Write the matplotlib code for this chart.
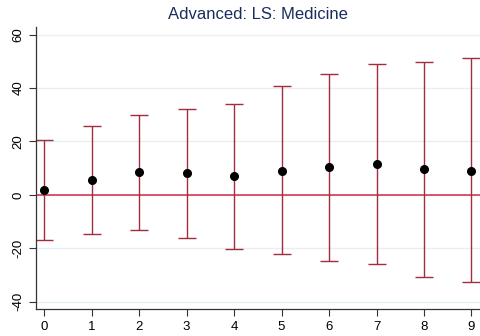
import matplotlib.pyplot as plt

plt.rcParams['font.family'] = ['Liberation Sans', 'DejaVu Sans']
plt.rcParams['axes.unicode_minus'] = False

# event-time coefficients with confidence bounds
periods = [0, 1, 2, 3, 4, 5, 6, 7, 8, 9]
coef = [1.9, 5.5, 8.4, 8.0, 7.1, 9.1, 10.4, 11.5, 9.5, 9.1]
ci_low = [-17.0, -14.6, -13.1, -16.1, -20.2, -22.3, -24.6, -25.8, -30.6, -32.8]
ci_high = [20.6, 25.7, 30.0, 32.2, 34.2, 40.6, 45.3, 49.0, 49.7, 51.1]
yticks = [-40, -20, 0, 20, 40, 60]

fig = plt.figure(figsize=(4.81, 3.36), dpi=100)
ax = fig.add_axes([0.075, 0.08, 0.923, 0.84])

# gridlines like the Stata s2color scheme
for t in yticks:
    ax.axhline(t, color='#e6eff1', lw=1.0, zorder=0)

ax.axhline(0, color='#d23c5a', lw=1.2, zorder=1)

err_low = [c - l for c, l in zip(coef, ci_low)]
err_high = [h - c for c, h in zip(coef, ci_high)]
ax.errorbar(periods, coef, yerr=[err_low, err_high], fmt='none',
            ecolor='#a32d3c', elinewidth=1.0, capsize=6.5, capthick=1.0, zorder=2)
ax.plot(periods, coef, 'o', color='black', markersize=5.5, zorder=3)

ax.set_xlim(-0.17, 9.18)
ax.set_ylim(-42.8, 62.9)
ax.set_xticks(periods)
ax.set_yticks(yticks)
ax.tick_params(axis='both', labelsize=9.5, length=5, width=0.8, color='#333333')
plt.setp(ax.get_yticklabels(), rotation=90, va='center')

for side in ['top', 'right']:
    ax.spines[side].set_visible(False)
for side in ['left', 'bottom']:
    ax.spines[side].set_color('#333333')
    ax.spines[side].set_linewidth(0.9)

ax.set_title('Advanced: LS: Medicine', color='#1a2d5c', fontsize=12, pad=6)

fig.savefig('out.png', dpi=100)
